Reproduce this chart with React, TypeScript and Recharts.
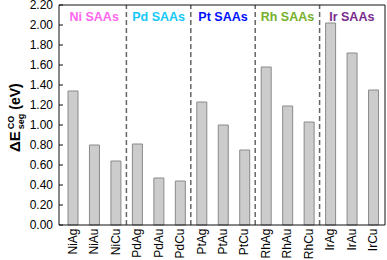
import React from 'react';
import { BarChart, Bar, XAxis, YAxis, ReferenceLine, ReferenceArea } from 'recharts';

const categories = ['NiAg', 'NiAu', 'NiCu', 'PdAg', 'PdAu', 'PdCu', 'PtAg', 'PtAu', 'PtCu', 'RhAg', 'RhAu', 'RhCu', 'IrAg', 'IrAu', 'IrCu'];
const segEnergies = [1.34, 0.8, 0.64, 0.81, 0.47, 0.44, 1.23, 1.0, 0.75, 1.58, 1.19, 1.03, 2.02, 1.72, 1.35];
const yTicks = [0, 0.2, 0.4, 0.6, 0.8, 1.0, 1.2, 1.4, 1.6, 1.8, 2.0, 2.2];
const groupNames = ['Ni SAAs', 'Pd SAAs', 'Pt SAAs', 'Rh SAAs', 'Ir SAAs'];
const groupColors = ['#ff66ee', '#14c8f8', '#0010ff', '#76b02c', '#7a2a8c'];
const groupStarts = ['NiAg', 'PdAg', 'PtAg', 'RhAg', 'IrAg'];
const groupEnds = ['NiCu', 'PdCu', 'PtCu', 'RhCu', 'IrCu'];
const separators = ['NiCu', 'PdCu', 'PtCu', 'RhCu'];

const data = categories.map((name, i) => ({ name, value: segEnergies[i] }));
const FONT = 'Liberation Sans, Arial, sans-serif';

const XTick = (props: any) => {
  const { x, y, payload } = props;
  return (
    <g transform={`translate(${x},${y})`}>
      <text x={0} y={0} transform="rotate(-90)" textAnchor="end" dominantBaseline="central" fontSize={12} fill="#000" fontFamily={FONT}>
        {payload.value}
      </text>
    </g>
  );
};

const YLabel = () => (
  <text transform="translate(20,115) rotate(-90)" fontFamily={FONT} fontWeight="bold" fontSize={14} fill="#000">
    <tspan x={-37} fontSize={15}>ΔE</tspan>
    <tspan dx={2} dy={-6} fontSize={9}>CO</tspan>
    <tspan dx={-13.5} dy={10} fontSize={9}>seg</tspan>
    <tspan dx={4} dy={-4}>(eV)</tspan>
  </text>
);

export default function App() {
  return (
    <div style={{ position: 'absolute', left: 0, top: 0 }}>
      <BarChart width={387} height={260} data={data} margin={{ top: 4, right: 1, left: 0, bottom: 0 }}>
        <XAxis
          dataKey="name"
          height={35}
          padding={{ left: 3, right: 1 }}
          tickLine={false}
          tickSize={0}
          tickMargin={3.5}
          interval={0}
          tick={<XTick />}
          axisLine={{ stroke: '#111' }}
        />
        <XAxis
          xAxisId="top"
          dataKey="name"
          orientation="top"
          height={1}
          padding={{ left: 3, right: 1 }}
          tick={false}
          tickSize={-3}
          interval={0}
          tickLine={{ stroke: '#111' }}
          axisLine={{ stroke: '#111' }}
        />
        <YAxis
          width={59}
          domain={[0, 2.2]}
          ticks={yTicks}
          interval={0}
          tickSize={-4}
          tickMargin={10}
          tickFormatter={(v: number) => v.toFixed(2)}
          tick={{ fill: '#000', fontSize: 12, fontFamily: FONT }}
          tickLine={{ stroke: '#111' }}
          axisLine={{ stroke: '#111' }}
          label={<YLabel />}
        />
        <YAxis
          yAxisId="right"
          orientation="right"
          width={1}
          domain={[0, 2.2]}
          ticks={yTicks}
          interval={0}
          tick={false}
          tickSize={-4}
          tickLine={{ stroke: '#111' }}
          axisLine={{ stroke: '#111' }}
        />
        {separators.map((s) => (
          <ReferenceLine key={s} x={s} position="end" stroke="#666" strokeWidth={1.5} strokeDasharray="5 3" />
        ))}
        {groupNames.map((g, i) => (
          <ReferenceArea
            key={g}
            x1={groupStarts[i]}
            x2={groupEnds[i]}
            fill="none"
            fillOpacity={0}
            stroke="none"
            label={{ value: g, position: 'insideTop', offset: 7, fill: groupColors[i], fontSize: 12.5, fontWeight: 'bold', fontFamily: FONT }}
          />
        ))}
        <Bar dataKey="value" fill="#cccccc" stroke="#8a8a8a" strokeWidth={1} barSize={10} isAnimationActive={false} />
      </BarChart>
    </div>
  );
}
